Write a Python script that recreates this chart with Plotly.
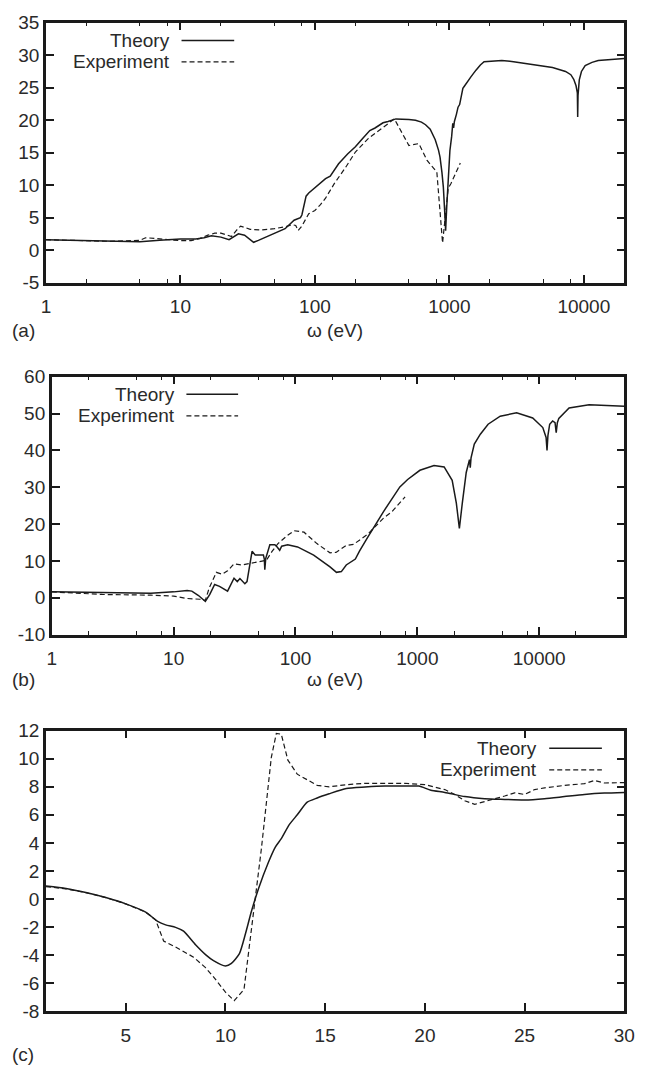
import plotly.graph_objects as go

# ---------------- data ----------------
# Panel (a)
a_theory_x = [1, 2, 3, 4, 5, 7, 10, 13, 15, 17, 20, 23, 25, 27, 30, 33, 35, 38, 40, 45, 50, 60, 70, 75, 78, 80, 83, 86, 90,
              100, 110, 120, 130, 150, 175, 200, 229, 256, 280, 300, 321, 350, 400, 500, 560, 620, 665, 720, 785, 830,
              852, 880, 902, 920, 938, 955, 970, 990, 1009, 1040, 1060, 1075, 1090, 1128, 1160, 1192, 1230, 1260, 1300,
              1371, 1450, 1577, 1700, 1812, 2100, 2454, 3000, 3739, 4700, 5848, 7310, 8000, 8410, 8750, 8950, 9000,
              9050, 9250, 9600, 10230, 11500, 12790, 16000, 20000]
a_theory_y = [1.6, 1.45, 1.3, 1.25, 1.3, 1.5, 1.7, 1.7, 1.9, 2.2, 2.0, 1.6, 2.1, 2.5, 2.3, 1.6, 1.2, 1.5, 1.7, 2.1, 2.5, 3.3,
              4.6, 4.9, 5.0, 5.4, 7.0, 8.3, 8.8, 9.6, 10.4, 11.0, 11.4, 13.3, 14.8, 15.9, 17.3, 18.4, 18.8, 19.2, 19.6,
              19.8, 20.2, 20.1, 20.0, 19.7, 19.3, 18.6, 17.0, 15.4, 14.3, 12.0, 9.7, 6.5, 3.0, 6.5, 9.7, 13.0, 15.3,
              17.5, 19.5, 18.8, 19.8, 20.9, 22.0, 22.4, 24.0, 24.9, 25.3, 25.9, 26.7, 27.7, 28.5, 29.0, 29.1, 29.2,
              29.0, 28.7, 28.4, 28.1, 27.5, 27.0, 26.3, 25.3, 24.2, 20.5, 23.8, 26.2, 27.5, 28.4, 28.9, 29.2, 29.4, 29.5]
a_exp_x = [1, 3, 5, 5.5, 6.5, 8, 10, 12, 14, 16, 18, 20, 22, 24, 26, 28, 30, 33, 40, 50, 60, 68, 72, 75, 80, 85, 90, 100,
           110, 120, 140, 170, 200, 250, 300, 350, 390, 500, 593, 683, 807, 890, 980, 1030, 1206]
a_exp_y = [1.6, 1.35, 1.5, 1.9, 1.8, 1.6, 1.45, 1.45, 1.8, 2.3, 2.6, 2.6, 2.4, 2.1, 3.0, 3.7, 3.5, 3.2, 3.1, 3.3, 3.6, 3.9,
           3.8, 3.0, 3.7, 4.8, 5.6, 6.1, 7.0, 8.0, 10.3, 12.8, 15.1, 17.2, 18.4, 19.4, 20.2, 16.1, 16.4, 13.8, 12.0,
           1.1, 9.5, 10.3, 13.4]

# Panel (b)
b_theory_x = [1, 2.6, 6.5, 10, 12.9, 14.1, 16, 18.2, 19.8, 21.7, 23.8, 27.7, 31.3, 33.3, 35, 38.4, 40, 44, 46.7, 54.5,
              55.5, 56, 57, 61.6, 67.7, 71, 74.2, 77, 86.3, 104, 141, 192, 217, 238, 261, 310, 336, 390, 528, 719, 833,
              1050, 1371, 1660, 1932, 2090, 2214, 2340, 2520, 2680, 2720, 2760, 2935, 3290, 3810, 4790, 6530, 8850,
              10710, 11400, 11600, 11800, 12200, 12900, 13500, 13800, 14100, 14500, 17600, 25700, 50000]
b_theory_y = [1.6, 1.4, 1.25, 1.6, 2.0, 1.8, 0.6, -1.0, 0.9, 3.6, 3.1, 1.8, 5.3, 4.4, 5.2, 3.8, 4.4, 12.6, 11.6, 11.6,
              10.5, 7.6, 10.7, 14.4, 14.4, 13.7, 12.9, 14.0, 14.4, 13.8, 11.6, 8.4, 6.9, 7.1, 8.9, 10.5, 12.7, 16.3,
              23.4, 30.1, 32.1, 34.6, 35.9, 35.5, 31.9, 25.7, 18.8, 25.7, 34.0, 37.5, 35.3, 38.0, 41.7, 44.4, 47.1,
              49.3, 50.2, 48.8, 46.2, 43.5, 40.0, 44.0, 47.1, 48.0, 47.5, 44.8, 47.5, 48.7, 51.5, 52.4, 52.0]
b_exp_x = [1, 2.6, 6.5, 10, 12.9, 16.4, 18.2, 19.6, 22.4, 25, 27.7, 31.3, 36.6, 52.8, 57.8, 64, 71.8, 85, 97.4, 117.5,
           150, 192, 215, 261, 300, 390, 528, 620, 794]
b_exp_y = [1.6, 0.9, 0.7, 0.45, -0.2, -0.4, -0.7, 2.7, 6.9, 6.4, 7.3, 9.2, 8.9, 10.0, 10.2, 12.5, 14.7, 16.8, 18.2,
           17.8, 14.7, 12.2, 12.3, 14.2, 14.5, 17.2, 21.6, 23.4, 27.4]

# Panel (c)
c_theory_x = [1, 2, 3, 4, 5, 6, 6.6, 7, 7.5, 7.9, 8.5, 9, 9.4, 10, 10.3, 10.7, 11, 11.3, 11.66, 12.15, 12.5, 12.8, 13.2,
              13.6, 14.1, 14.6, 15.2, 16.06, 17, 18, 19, 19.7, 20.3, 21, 22, 23, 24, 25, 26, 27, 28, 29, 30]
c_theory_y = [0.93, 0.75, 0.46, 0.1, -0.35, -0.94, -1.6, -1.85, -2.03, -2.3, -3.27, -3.97, -4.4, -4.78, -4.6, -3.9,
              -2.5, -0.9, 0.75, 2.6, 3.7, 4.3, 5.3, 6.0, 6.9, 7.2, 7.5, 7.88, 7.98, 8.05, 8.05, 8.05, 7.75, 7.6, 7.3,
              7.15, 7.1, 7.06, 7.15, 7.3, 7.45, 7.55, 7.6]
c_exp_x = [1, 2, 3, 4, 5, 6, 6.5, 6.9, 7.5, 8.4, 9, 9.4, 10, 10.44, 10.93, 11.3, 11.8, 12.3, 12.55, 12.8, 13.13, 13.6,
           14.1, 14.6, 15.2, 16.06, 17, 18, 19, 20, 21, 21.5, 22, 22.5, 23, 23.5, 24, 24.5, 25, 25.5, 26, 27, 28,
           28.5, 29, 30]
c_exp_y = [0.88, 0.72, 0.45, 0.1, -0.35, -0.94, -1.5, -3.0, -3.43, -4.15, -4.9, -5.55, -6.65, -7.25, -6.45, -2.3, 3.56,
           10.1, 11.8, 11.75, 9.9, 8.9, 8.5, 8.1, 8.0, 8.15, 8.25, 8.27, 8.25, 8.15, 7.8, 7.45, 7.0, 6.75, 6.95, 7.1,
           7.34, 7.57, 7.45, 7.8, 7.92, 8.1, 8.22, 8.45, 8.27, 8.3]

# ticks
log_major = [1, 10, 100, 1000, 10000]
log_major_text = ["1", "10", "100", "1000", "10000"]
log_minor_a = [m * 10 ** d for d in range(5) for m in (2, 5, 8) if m * 10 ** d <= 20000]
log_minor_b = [m * 10 ** d for d in range(5) for m in (2, 5, 8) if m * 10 ** d <= 50000]
a_yticks = list(range(-5, 36, 5))
b_yticks = list(range(-10, 61, 10))
c_yticks = list(range(-8, 13, 2))
c_xticks = [5, 10, 15, 20, 25, 30]

series_names = ["Theory", "Experiment"]

# ---------------- style ----------------
W, H = 648, 1079
FONT = "Liberation Sans, Arial, Helvetica, sans-serif"
TXT = "#2a2a2a"
LINE = "#1a1a1a"
FS = 19


def px(x):
    return x / W


def py(y):
    return 1 - y / H


def labels(vals):
    return [str(v) for v in vals]  # plain hyphen-minus as in the original


fig = go.Figure()

panels = [
    ("x", "y", a_theory_x, a_theory_y, a_exp_x, a_exp_y, "linear"),
    ("x2", "y2", b_theory_x, b_theory_y, b_exp_x, b_exp_y, "linear"),
    ("x3", "y3", c_theory_x, c_theory_y, c_exp_x, c_exp_y, "spline"),
]
for xa, ya, tx, ty, ex, ey, shp in panels:
    fig.add_trace(go.Scatter(x=tx, y=ty, xaxis=xa, yaxis=ya, mode="lines", name=series_names[0],
                             line=dict(color=LINE, width=1.5, shape=shp, smoothing=0.6), showlegend=False))
    fig.add_trace(go.Scatter(x=ex, y=ey, xaxis=xa, yaxis=ya, mode="lines", name=series_names[1],
                             line=dict(color=LINE, width=1.2, dash="5px,3px"), showlegend=False))

axis_common = dict(showline=True, linecolor=LINE, linewidth=2.5, mirror="ticks", ticks="inside",
                   ticklen=8, tickwidth=1.8, tickcolor=LINE, showgrid=False, zeroline=False,
                   ticklabeloverflow="allow",
                   tickfont=dict(family=FONT, size=FS, color=TXT))

# panel geometry (pixels)
geo = {
    "a": dict(l=42, r=635, t=13, b=278),
    "b": dict(l=48, r=635, t=374, b=637),
    "c": dict(l=42, r=635, t=735, b=1021),
}

lay = dict(width=W, height=H, margin=dict(l=0, r=0, t=0, b=0), paper_bgcolor="white", plot_bgcolor="white",
           showlegend=False)

g = geo["a"]
lay["xaxis"] = dict(axis_common, type="log", domain=[px(g["l"]), px(g["r"])], anchor="y",
                    range=[0, 4.30103], tickmode="array", tickvals=log_major, ticktext=log_major_text,
                    ticklabelstandoff=5,
                    minor=dict(tickmode="array", tickvals=log_minor_a, ticklen=4, tickwidth=1.3, ticks="inside",
                               tickcolor=LINE))
lay["yaxis"] = dict(axis_common, domain=[py(g["b"]), py(g["t"])], anchor="x", range=[-5, 35],
                    tickmode="array", tickvals=a_yticks, ticktext=labels(a_yticks))

g = geo["b"]
lay["xaxis2"] = dict(axis_common, type="log", domain=[px(g["l"]), px(g["r"])], anchor="y2",
                     range=[0, 4.69897], tickmode="array", tickvals=log_major, ticktext=log_major_text,
                     ticklabelstandoff=5,
                     minor=dict(tickmode="array", tickvals=log_minor_b, ticklen=4, tickwidth=1.3, ticks="inside",
                                tickcolor=LINE))
lay["yaxis2"] = dict(axis_common, domain=[py(g["b"]), py(g["t"])], anchor="x2", range=[-10, 60],
                     tickmode="array", tickvals=b_yticks, ticktext=labels(b_yticks))

g = geo["c"]
lay["xaxis3"] = dict(axis_common, domain=[px(g["l"]), px(g["r"])], anchor="y3", range=[1, 30],
                     tickmode="array", tickvals=c_xticks, ticktext=labels(c_xticks), ticklabelstandoff=5)
lay["yaxis3"] = dict(axis_common, domain=[py(g["b"]), py(g["t"])], anchor="x3", range=[-8, 12],
                     tickmode="array", tickvals=c_yticks, ticktext=labels(c_yticks))

fig.update_layout(**lay)

annotations = []
shapes = []


def text(x, y, s, anchor="center"):
    annotations.append(dict(x=px(x), y=py(y), xref="paper", yref="paper", text=s, showarrow=False,
                            xanchor=anchor, yanchor="middle", borderpad=0,
                            font=dict(family=FONT, size=FS, color=TXT)))


# panel labels and axis titles
text(6, 327, "(a)", "left")
text(338, 327, "ω (eV)")
text(6, 683, "(b)", "left")
text(338, 683, "ω (eV)")
text(6, 1065, "(c)", "left")

# legends (gnuplot style: text right-aligned, key sample to the right)
legends = [
    dict(tx=170, k0=181, k1=235, y0=31, y1=53),
    dict(tx=175, k0=186, k1=239, y0=392, y1=414),
    dict(tx=546, k0=558, k1=612, y0=753, y1=775),
]
for lg in legends:
    text(lg["tx"], lg["y0"], series_names[0], "right")
    text(lg["tx"], lg["y1"], series_names[1], "right")
    shapes.append(dict(type="line", xref="paper", yref="paper", x0=px(lg["k0"]), x1=px(lg["k1"]),
                       y0=py(lg["y0"]), y1=py(lg["y0"]), line=dict(color=LINE, width=1.5)))
    shapes.append(dict(type="line", xref="paper", yref="paper", x0=px(lg["k0"]), x1=px(lg["k1"]),
                       y0=py(lg["y1"]), y1=py(lg["y1"]), line=dict(color=LINE, width=1.2, dash="5px,3px")))

fig.update_layout(annotations=annotations, shapes=shapes)

fig.write_html("out.html", config={"displayModeBar": False},
               post_script="document.body.style.margin='0';document.body.style.overflow='hidden';")
